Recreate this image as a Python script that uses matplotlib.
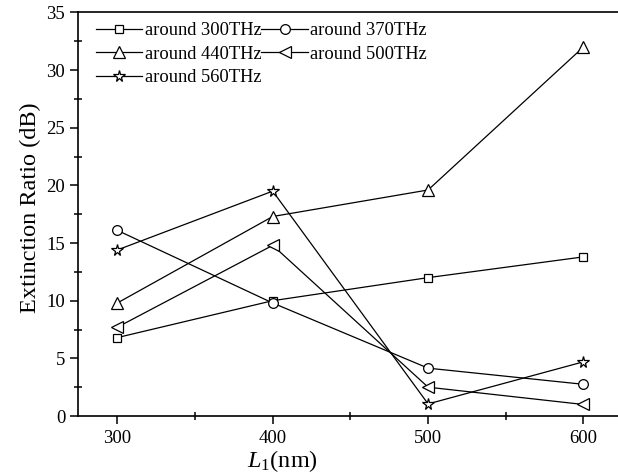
import numpy as np
import matplotlib
matplotlib.use("Agg")
import matplotlib.pyplot as plt
import matplotlib.ticker as ticker

plt.rcParams['font.family'] = ['Liberation Serif', 'DejaVu Serif']
plt.rcParams['mathtext.fontset'] = 'custom'
plt.rcParams['mathtext.it'] = 'Liberation Serif:italic'
plt.rcParams['mathtext.rm'] = 'Liberation Serif'

# data
L1 = [300, 400, 500, 600]
er_300 = [6.8, 10.0, 12.0, 13.8]
er_370 = [16.1, 9.8, 4.15, 2.75]
er_440 = [9.8, 17.3, 19.6, 32.0]
er_500 = [7.7, 14.8, 2.5, 1.0]
er_560 = [14.4, 19.5, 1.05, 4.7]
labels = ["around 300THz", "around 370THz", "around 440THz",
          "around 500THz", "around 560THz"]

fig = plt.figure(figsize=(6.18, 4.76), dpi=100)
ax = fig.add_axes([0.127, 0.126, 0.88, 0.848])

series = [er_300, er_370, er_440, er_500, er_560]
markers = ["s", "o", "^", "<", "*"]
msizes = [6, 7, 8, 8, 8.5]
lines = []
for y, m, ms, lab in zip(series, markers, msizes, labels):
    ln, = ax.plot(L1, y, color="black", lw=0.9, marker=m, ms=ms,
                  mfc="white", mec="black", mew=0.9, label=lab)
    lines.append(ln)

ax.set_xlim(275, 625)
ax.set_ylim(0, 35)
ax.xaxis.set_major_locator(ticker.MultipleLocator(100))
ax.xaxis.set_minor_locator(ticker.MultipleLocator(50))
ax.yaxis.set_major_locator(ticker.MultipleLocator(5))
ax.yaxis.set_minor_locator(ticker.MultipleLocator(2.5))
ax.tick_params(which="major", direction="out", length=6, width=1.1, labelsize=13.5)
ax.tick_params(axis="x", which="major", pad=4)
ax.tick_params(which="minor", direction="inout", length=6, width=1.1)
for sp in ax.spines.values():
    sp.set_linewidth(1.2)

ax.set_xlabel(r"$L_{\mathit{1}}$(nm)", fontsize=17.5)
ax.xaxis.set_label_coords(0.375, -0.08)
ax.set_ylabel("Extinction Ratio (dB)", fontsize=17.5)
ax.yaxis.set_label_coords(-0.068, 0.515)

# row-major order like the original legend
order = [0, 2, 4, 1, 3]
ax.legend([lines[i] for i in order], [labels[i] for i in order],
          loc="upper left", bbox_to_anchor=(0.025, 0.985), ncol=2,
          frameon=False, fontsize=13.3,
          handlelength=2.5, handletextpad=0.15, columnspacing=0.0,
          labelspacing=0.35, borderaxespad=0.0, borderpad=0.2)

fig.savefig("out.png", dpi=100)
